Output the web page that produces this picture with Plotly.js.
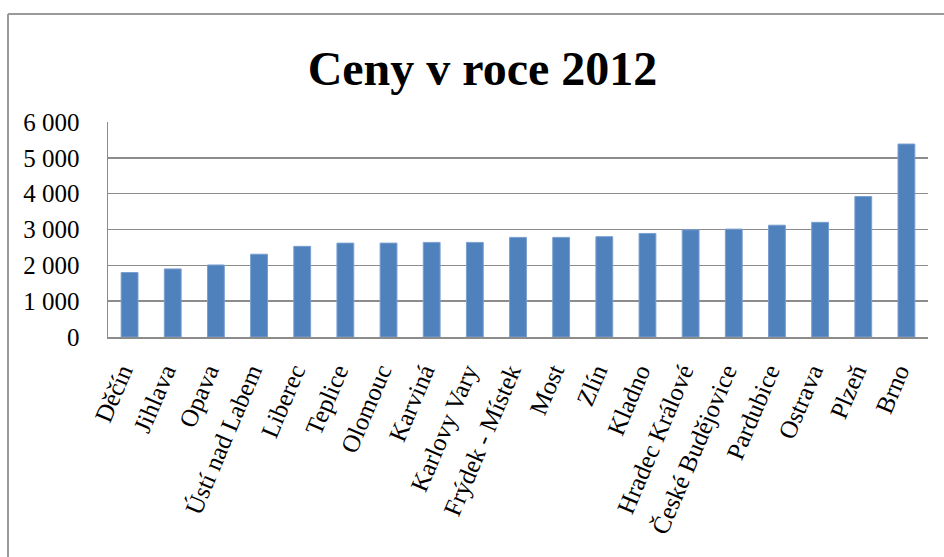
<!DOCTYPE html>
<html>
<head>
<meta charset="utf-8">
<script src="https://cdn.plot.ly/plotly-3.0.1.min.js"></script>
<style>
html,body{margin:0;padding:0;background:#fff;}
#chart{width:944px;height:557px;}
</style>
</head>
<body>
<div id="chart"></div>
<script>
const cities = ["Děčín","Jihlava","Opava","Ústí nad Labem","Liberec","Teplice","Olomouc","Karviná","Karlovy Vary","Frýdek - Místek","Most","Zlín","Kladno","Hradec Králové","České Budějovice","Pardubice","Ostrava","Plzeň","Brno"];
const prices = [1800,1900,2010,2310,2530,2620,2620,2640,2640,2780,2780,2800,2890,2990,3010,3120,3200,3920,5385];
const yTicks = [0,1000,2000,3000,4000,5000,6000];
const chartTitle = "Ceny v roce 2012";

const M = {l:108, r:16, t:122, b:220};
const W = 944, H = 557;
const pw = W - M.l - M.r, ph = H - M.t - M.b;
const px = x => (x - M.l) / pw;
const py = y => (H - M.b - y) / ph;

const trace = {
  type: 'bar',
  x: cities,
  y: prices,
  marker: {color: '#4F81BD', line: {color: '#7A9FD0', width: 1}},
  hoverinfo: 'x+y'
};

const frameColor = '#9a9a9a';
const layout = {
  width: W, height: H,
  margin: M,
  paper_bgcolor: '#fff',
  plot_bgcolor: '#fff',
  separators: ', ',
  font: {family: '"Liberation Serif", "Times New Roman", serif', color: '#000'},
  title: {
    text: '<b>' + chartTitle + '</b>',
    font: {size: 48, family: '"Liberation Serif", "Times New Roman", serif', color: '#000'},
    xref: 'container', x: 482.5 / W, xanchor: 'center',
    yref: 'container', y: 1 - 68 / H, yanchor: 'middle'
  },
  bargap: 0.61,
  showlegend: false,
  xaxis: {
    type: 'category',
    tickangle: -67,
    tickfont: {size: 25},
    showgrid: false,
    showline: true, linecolor: '#8c8c8c', linewidth: 2,
    ticks: '', ticklabelstandoff: 8, ticklabelshift: -8, automargin: false
  },
  yaxis: {
    range: [0, 6000],
    tickvals: yTicks,
    separatethousands: true,
    tickformat: ',d',
    tickfont: {size: 25},
    showgrid: true, gridcolor: '#8c8c8c', gridwidth: 1.5,
    showline: true, linecolor: '#8c8c8c', linewidth: 1.5,
    zeroline: false,
    ticks: '', ticklabelstandoff: 22, automargin: false
  },
  shapes: [
    {type:'line', xref:'paper', yref:'paper', x0:px(8), x1:px(W+2), y0:py(14), y1:py(14), line:{color:frameColor, width:2}},
    {type:'line', xref:'paper', yref:'paper', x0:px(8), x1:px(8), y0:py(14), y1:py(H+2), line:{color:frameColor, width:2}}
  ]
};

Plotly.newPlot('chart', [trace], layout, {displayModeBar: false, staticPlot: true});
</script>
</body>
</html>
